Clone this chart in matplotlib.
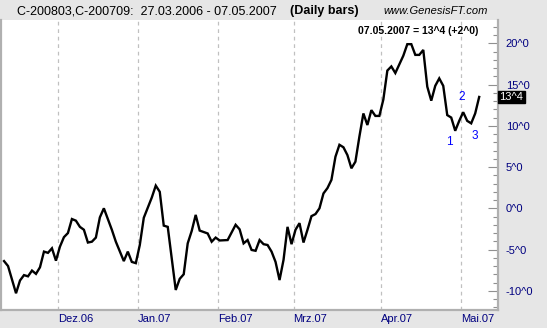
import matplotlib
matplotlib.use('Agg')
import matplotlib.pyplot as plt
from matplotlib.ticker import MultipleLocator, FuncFormatter
import matplotlib.transforms as mtransforms

plt.rcParams['font.family'] = ['Liberation Sans', 'DejaVu Sans']

# trading day index (0 = 10.11.2006) and spread value
day = [0, 1, 3, 4, 5, 6, 7, 8, 9, 10, 11, 12, 13, 14, 15, 16, 17, 18, 19, 20,
       21, 22, 23, 24, 25, 27, 28, 30, 31, 32, 33, 34, 35, 37, 38, 39, 40, 41,
       43, 44, 45, 46, 47, 48, 49, 51, 52, 53, 54, 56, 58, 59, 60, 61, 62, 63,
       64, 65, 66, 67, 68, 69, 70, 71, 72, 73, 74, 75, 76, 77, 78, 79, 80, 81,
       82, 83, 84, 85, 86, 87, 88, 89, 90, 91, 92, 93, 94, 95, 96, 97, 98, 99,
       100, 101, 102, 103, 104, 105, 106, 107, 108, 109, 110, 111, 112, 113,
       114, 115, 116, 117, 118, 119]
value = [-6.4, -7.0, -10.3, -8.75, -8.1, -8.25, -7.55, -7.95, -7.15, -5.25,
         -5.4, -4.85, -6.35, -4.65, -3.5, -3.0, -1.3, -1.5, -2.25, -2.6,
         -4.15, -4.05, -3.55, -1.1, 0.0, -2.6, -4.05, -6.4, -5.25, -6.5,
         -6.65, -4.45, -1.15, 1.3, 2.75, 2.0, -2.1, -2.25, -9.9, -8.55,
         -8.0, -4.25, -2.75, -0.8, -2.7, -3.05, -4.05, -3.55, -3.9, -3.85,
         -2.0, -2.55, -4.25, -3.85, -5.05, -5.15, -3.85, -4.35, -4.45, -5.25,
         -6.5, -8.7, -6.25, -2.25, -4.35, -2.6, -1.8, -4.15, -2.6, -0.95,
         -0.7, 0.0, 1.8, 2.45, 3.45, 6.25, 7.7, 7.4, 6.45, 4.85,
         5.65, 8.7, 11.5, 10.1, 11.9, 11.2, 11.2, 13.2, 16.7, 17.2,
         16.4, 17.45, 18.5, 19.9, 19.9, 18.6, 18.6, 19.2, 14.75, 13.05,
         14.85, 15.75, 14.85, 11.3, 11.0, 9.4, 10.6, 11.65, 10.6, 10.3,
         11.5, 13.5]

# month starts (between bars) and labels
month_pos = [13.5, 33.5, 53.5, 72.5, 94.5, 114.5]
month_lab = ['Dez.06', 'Jan.07', 'Feb.07', 'Mrz.07', 'Apr.07', 'Mai.07']

# wave count labels
wave_lab = ['1', '2', '3']
wave_x = [111.6, 114.7, 117.8]
wave_y = [8.0, 13.5, 8.8]

last_txt = '13^4'
title_txt = 'C-200803,C-200709:  27.03.2006 - 07.05.2007'
navy = '#000080'

fig = plt.figure(figsize=(5.47, 3.28), dpi=100, facecolor='#e6e6e6')
ax = fig.add_axes([0.001, 18 / 328, 497 / 547, 290 / 328])
ax.set_facecolor('white')

ax.plot(day, value, color='black', lw=1.7, solid_joinstyle='miter')

ax.set_xlim(-0.875, 123.6)
ax.set_ylim(-12.33, 22.83)

for p in month_pos:
    ax.axvline(p, color='#c0c0c0', lw=0.9, ls=(0, (3, 3)), zorder=0)

ax.set_xticks(month_pos)
ax.set_xticklabels(month_lab)
for t in ax.get_xticklabels():
    t.set_horizontalalignment('left')
ax.tick_params(axis='x', length=0, pad=3, labelsize=8, labelcolor=navy)

ax.yaxis.tick_right()
ax.yaxis.set_major_locator(MultipleLocator(5))
ax.yaxis.set_minor_locator(MultipleLocator(1))
ax.yaxis.set_major_formatter(FuncFormatter(lambda v, p: f'{v:.0f}^0'))
ax.tick_params(axis='y', which='major', direction='in', length=7, width=0.8,
               color='#909090', pad=6, labelsize=8, labelcolor=navy)
ax.tick_params(axis='y', which='minor', direction='in', length=3.5,
               width=0.8, color='#909090')

for s in ['left', 'right', 'bottom']:
    ax.spines[s].set_color('#b0b0b0')
    ax.spines[s].set_linewidth(1.6)
ax.spines['top'].set_visible(False)

for lab, x, y in zip(wave_lab, wave_x, wave_y):
    ax.text(x, y, lab, color='#0000ff', fontsize=8.5, ha='center', va='center')

# last value box on the price scale
trans = mtransforms.blended_transform_factory(ax.transAxes, ax.transData)
ax.text(1.004, value[-1], last_txt, transform=trans, color='white', fontsize=8,
        ha='left', va='center',
        bbox=dict(boxstyle='square,pad=0.1', fc='black', ec='black'))

ax.text(0.962, 0.98, f'07.05.2007 = {last_txt} (+2^0)', transform=ax.transAxes,
        fontsize=7.5, fontweight='bold', ha='right', va='top')

fig.text(17 / 547, 1 - 11 / 328, title_txt, fontsize=9, va='center')
fig.text(290 / 547, 1 - 11 / 328, '(Daily bars)', fontsize=9,
         fontweight='bold', va='center', ha='left')
fig.text(383 / 547, 1 - 11 / 328, 'www.GenesisFT.com', fontsize=8,
         style='italic', va='center')

fig.savefig('out.png', dpi=100, facecolor=fig.get_facecolor())
